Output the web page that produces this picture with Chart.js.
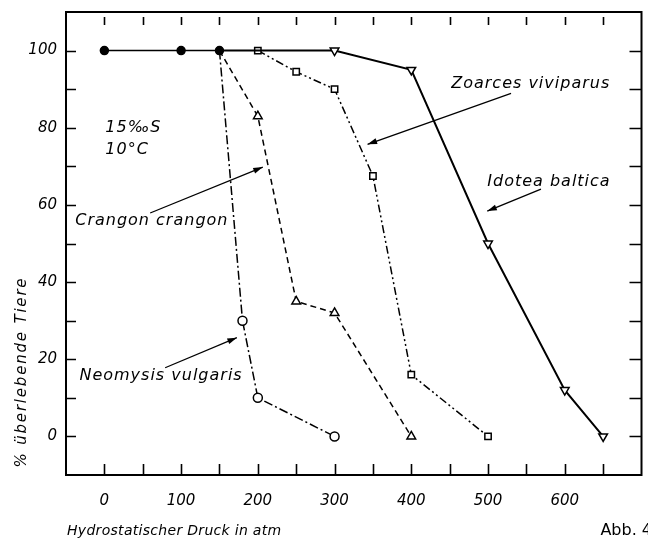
<!DOCTYPE html>
<html><head><meta charset="utf-8">
<script src="https://cdn.jsdelivr.net/npm/chart.js@4/dist/chart.umd.min.js"></script>
<style>html,body{margin:0;padding:0;background:#fff}#wrap{width:648px;height:542px}</style>
</head><body><div id="wrap"><canvas id="c" width="648" height="542"></canvas></div>
<script>
// ---- data ----
const xTickLabels = [0, 100, 200, 300, 400, 500, 600];
const yTickLabels = [0, 20, 40, 60, 80, 100];

const commonX = [0, 100, 150];
const commonY = [100, 100, 100];

const neomysisX = [150, 180, 200, 300];
const neomysisY = [100, 30, 10, 0];

const crangonX = [150, 200, 250, 300, 400];
const crangonY = [100, 83, 35, 32, 0];

const zoarcesX = [200, 250, 300, 350, 400, 500];
const zoarcesY = [100, 94.5, 90, 67.5, 16, 0];

const idoteaX = [150, 200, 300, 400, 500, 600, 650];
const idoteaY = [100, 100, 100, 95, 50, 12, 0];

// annotation texts (data coordinates)
const labels = [
  {text: 'Zoarces viviparus', x: 452, y: 91.5},
  {text: 'Idotea baltica', x: 499, y: 66},
  {text: 'Crangon crangon', x: -38, y: 55.8},
  {text: 'Neomysis vulgaris', x: -32.5, y: 15.8},
  {text: '15‰S', x: 1.3, y: 80},
  {text: '10°C', x: 1.3, y: 74.2}
];
const arrows = [
  {x1: 530, y1: 88.9, x2: 343, y2: 75.7},
  {x1: 569, y1: 64.1, x2: 499, y2: 58.4},
  {x1: 59.7, y1: 57.9, x2: 206.5, y2: 69.8},
  {x1: 79.2, y1: 17.8, x2: 172.7, y2: 25.6}
];

const pts = (xs, ys) => xs.map((x, i) => ({x, y: ys[i]}));
const FONT = '"DejaVu Sans", sans-serif';

const frame = {
  id: 'frame',
  afterDraw(chart) {
    const {ctx, chartArea: a, scales: {x, y}} = chart;
    ctx.save();
    ctx.strokeStyle = '#000';
    ctx.lineWidth = 2;
    ctx.strokeRect(a.left, a.top, a.right - a.left, a.bottom - a.top);
    ctx.lineWidth = 1.6;
    ctx.beginPath();
    for (let v = 0; v <= 650; v += 50) {
      const px = Math.round(x.getPixelForValue(v)) + 0.5;
      ctx.moveTo(px, a.top + 5); ctx.lineTo(px, a.top + 13);
      ctx.moveTo(px, a.bottom - 11); ctx.lineTo(px, a.bottom);
    }
    for (let v = 0; v <= 100; v += 10) {
      const py = Math.round(y.getPixelForValue(v)) + 0.5;
      ctx.moveTo(a.left, py); ctx.lineTo(a.left + 10, py);
      ctx.moveTo(a.right - 12, py); ctx.lineTo(a.right, py);
    }
    ctx.stroke();

    // annotations
    ctx.fillStyle = '#000';
    ctx.font = 'italic 16px ' + FONT;
    ctx.letterSpacing = '1px';
    ctx.textBaseline = 'middle';
    ctx.textAlign = 'left';
    labels.forEach(l => ctx.fillText(l.text, x.getPixelForValue(l.x), y.getPixelForValue(l.y)));
    ctx.letterSpacing = '0px';
    ctx.lineWidth = 1.3;
    arrows.forEach(ar => {
      const x1 = x.getPixelForValue(ar.x1), y1 = y.getPixelForValue(ar.y1);
      const x2 = x.getPixelForValue(ar.x2), y2 = y.getPixelForValue(ar.y2);
      ctx.beginPath(); ctx.moveTo(x1, y1); ctx.lineTo(x2, y2); ctx.stroke();
      const ang = Math.atan2(y2 - y1, x2 - x1), L = 10, W = 0.3;
      ctx.beginPath();
      ctx.moveTo(x2, y2);
      ctx.lineTo(x2 - L * Math.cos(ang - W), y2 - L * Math.sin(ang - W));
      ctx.lineTo(x2 - L * Math.cos(ang + W), y2 - L * Math.sin(ang + W));
      ctx.closePath(); ctx.fill();
    });

    // axis titles
    ctx.font = 'italic 14px ' + FONT;
    ctx.letterSpacing = '0.3px';
    ctx.textBaseline = 'alphabetic';
    ctx.textAlign = 'left';
    ctx.fillText('Hydrostatischer Druck in atm', 67, 535);
    ctx.letterSpacing = '0px';
    ctx.font = '16px ' + FONT;
    ctx.textAlign = 'right';
    ctx.fillText('Abb. 4', 652, 535);
    ctx.save();
    ctx.translate(26, 372);
    ctx.rotate(-Math.PI / 2);
    ctx.textAlign = 'center';
    ctx.font = 'italic 15px ' + FONT;
    ctx.letterSpacing = '1.8px';
    ctx.fillText('% überlebende Tiere', 0, 0);
    ctx.restore();
    ctx.restore();
  }
};

const base = {borderColor: '#000', backgroundColor: '#fff', pointBorderColor: '#000',
  pointBackgroundColor: '#fff', borderWidth: 1.5, pointBorderWidth: 1.5, tension: 0};

const noPad = s => { s.paddingTop = 0; s.paddingBottom = 0; s.paddingLeft = 0; s.paddingRight = 0; };

new Chart(document.getElementById('c'), {
  type: 'line',
  data: {
    datasets: [
      Object.assign({}, base, {label: 'Idotea baltica', data: pts(idoteaX, idoteaY),
        borderWidth: 2, pointStyle: 'triangle', pointRotation: 180,
        pointRadius: [0, 0, 5, 5, 5, 5, 5]}),
      Object.assign({}, base, {label: 'Zoarces viviparus', data: pts(zoarcesX, zoarcesY),
        borderDash: [8, 3, 2, 3, 2, 3], pointStyle: 'rect', pointRadius: 4.5}),
      Object.assign({}, base, {label: 'Crangon crangon', data: pts(crangonX, crangonY),
        borderDash: [6, 4], pointStyle: 'triangle', pointRadius: [0, 5, 5, 5, 5]}),
      Object.assign({}, base, {label: 'Neomysis vulgaris', data: pts(neomysisX, neomysisY),
        borderDash: [9, 3, 2, 3], pointStyle: 'circle', pointRadius: [0, 4.5, 4.5, 4.5]}),
      Object.assign({}, base, {label: 'alle', data: pts(commonX, commonY),
        pointStyle: 'circle', pointRadius: 4, pointBackgroundColor: '#000'})
    ]
  },
  options: {
    responsive: false, animation: false, devicePixelRatio: 1,
    layout: {padding: {left: 0, right: 3, top: 12, bottom: 0}},
    plugins: {legend: {display: false}, tooltip: {enabled: false}},
    scales: {
      x: {type: 'linear', min: -50, max: 700,
        grid: {display: false, drawTicks: false}, border: {display: false},
        afterBuildTicks: s => { s.ticks = xTickLabels.map(v => ({value: v})); },
        afterFit: s => { s.height = 67; noPad(s); },
        ticks: {padding: 17, color: '#000', font: {family: FONT, size: 15, style: 'italic'}}},
      y: {type: 'linear', min: -10, max: 110,
        grid: {display: false, drawTicks: false}, border: {display: false},
        afterBuildTicks: s => { s.ticks = yTickLabels.map(v => ({value: v})); },
        afterFit: s => { s.width = 66; noPad(s); },
        ticks: {padding: 9, color: '#000', font: {family: FONT, size: 15, style: 'italic'}}}
    }
  },
  plugins: [frame]
});
</script></body></html>
